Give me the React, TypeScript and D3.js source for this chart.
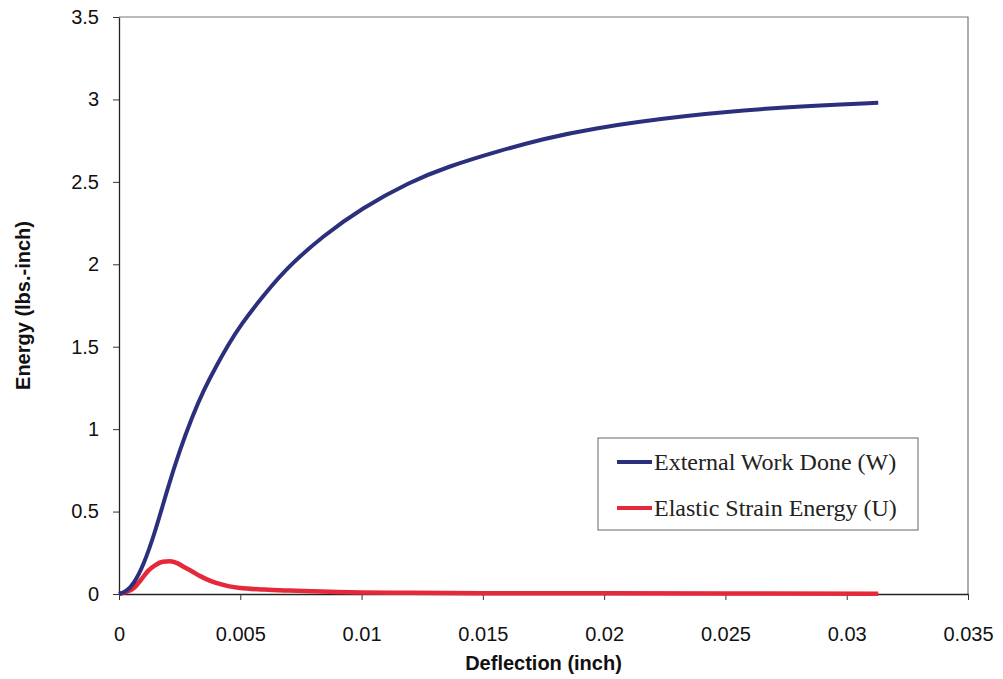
import React, { useEffect, useRef } from 'react';
import * as d3 from 'd3';

// deflection (inch) / energy (lbs.-inch)
const workX = [0, 0.0003, 0.0006, 0.001, 0.0015, 0.002, 0.0025, 0.003, 0.0035, 0.004, 0.0045, 0.005, 0.006, 0.007, 0.0084, 0.01, 0.012, 0.0135, 0.0157, 0.0175, 0.0193, 0.0234, 0.0275, 0.0313];
const workY = [0, 0.015, 0.06, 0.17, 0.38, 0.64, 0.87, 1.07, 1.24, 1.38, 1.51, 1.63, 1.82, 1.99, 2.17, 2.34, 2.5, 2.59, 2.69, 2.76, 2.82, 2.905, 2.955, 2.98];

const strainX = [0, 0.0003, 0.0006, 0.0009, 0.0012, 0.0015, 0.0018, 0.0021, 0.0024, 0.0027, 0.003, 0.0033, 0.0036, 0.004, 0.0045, 0.005, 0.006, 0.007, 0.008, 0.009, 0.01, 0.012, 0.015, 0.02, 0.025, 0.0313];
const strainY = [0, 0.012, 0.035, 0.085, 0.14, 0.175, 0.195, 0.198, 0.187, 0.162, 0.138, 0.112, 0.09, 0.067, 0.048, 0.036, 0.027, 0.021, 0.016, 0.012, 0.009, 0.007, 0.005, 0.004, 0.003, 0.002];

const xTicks = [0, 0.005, 0.01, 0.015, 0.02, 0.025, 0.03, 0.035];
const yTicks = [0, 0.5, 1, 1.5, 2, 2.5, 3, 3.5];

const seriesNames = ['External Work Done (W)', 'Elastic Strain Energy (U)'];
const seriesColors = ['#2b2f7c', '#e5283a'];

const App = () => {
  const svgRef = useRef<SVGSVGElement>(null);

  useEffect(() => {
    const width = 1003;
    const height = 679;
    const left = 119, right = 968, top = 17, bottom = 594;

    const svg = d3.select(svgRef.current)
      .attr('width', width)
      .attr('height', height);
    svg.selectAll('*').remove();

    const x = d3.scaleLinear().domain([0, 0.035]).range([left, right]);
    const y = d3.scaleLinear().domain([0, 3.5]).range([bottom, top]);

    // frame: grey top/right, black axes
    svg.append('path')
      .attr('d', `M${left},${top}H${right}V${bottom}`)
      .attr('fill', 'none')
      .attr('stroke', '#777')
      .attr('stroke-width', 1.2);

    const xAxis = svg.append('g')
      .attr('transform', `translate(0,${bottom})`)
      .call(d3.axisBottom(x).tickValues(xTicks).tickSize(6).tickSizeOuter(0).tickFormat(d => String(+d)));
    xAxis.select('.domain').attr('stroke', '#222').attr('stroke-width', 1.3);
    xAxis.selectAll('line').attr('stroke', '#333');
    xAxis.selectAll('text')
      .attr('dy', '1.9em')
      .style('font-family', 'Liberation Sans, Arial, sans-serif')
      .style('font-size', '20px')
      .attr('fill', '#111');

    const yAxis = svg.append('g')
      .attr('transform', `translate(${left},0)`)
      .call(d3.axisLeft(y).tickValues(yTicks).tickSize(6).tickSizeOuter(0).tickFormat(d => String(+d)));
    yAxis.select('.domain').attr('stroke', '#222').attr('stroke-width', 1.3);
    yAxis.selectAll('line').attr('stroke', '#333');
    yAxis.selectAll('text')
      .attr('x', -20)
      .style('font-family', 'Liberation Sans, Arial, sans-serif')
      .style('font-size', '20px')
      .attr('fill', '#111');

    const line = d3.line<[number, number]>()
      .x(d => x(d[0]))
      .y(d => y(d[1]))
      .curve(d3.curveMonotoneX);

    const work: [number, number][] = workX.map((v, i) => [v, workY[i]]);
    const strain: [number, number][] = strainX.map((v, i) => [v, strainY[i]]);

    svg.append('path')
      .attr('d', line(strain))
      .attr('fill', 'none')
      .attr('stroke', seriesColors[1])
      .attr('stroke-width', 4.5);

    // W is a smooth curve, so a basis spline fits the scan better
    svg.append('path')
      .attr('d', line.curve(d3.curveBasis)(work))
      .attr('fill', 'none')
      .attr('stroke', seriesColors[0])
      .attr('stroke-width', 4);

    // legend
    const lg = svg.append('g');
    lg.append('rect')
      .attr('x', 598).attr('y', 438)
      .attr('width', 320).attr('height', 92)
      .attr('fill', 'white')
      .attr('stroke', '#666')
      .attr('stroke-width', 1);
    seriesNames.forEach((name, i) => {
      const ly = 462 + i * 46;
      lg.append('line')
        .attr('x1', 617).attr('x2', 652)
        .attr('y1', ly).attr('y2', ly)
        .attr('stroke', seriesColors[i])
        .attr('stroke-width', 4);
      lg.append('text')
        .attr('x', 654).attr('y', ly + 8)
        .style('font-family', 'Liberation Serif, Times New Roman, serif')
        .style('font-size', '24px')
        .attr('fill', '#222')
        .text(name);
    });

    // axis titles
    svg.append('text')
      .attr('x', (left + right) / 2)
      .attr('y', 670)
      .attr('text-anchor', 'middle')
      .style('font-family', 'Liberation Sans, Arial, sans-serif')
      .style('font-size', '20px')
      .style('font-weight', 'bold')
      .attr('fill', '#111')
      .text('Deflection (inch)');

    svg.append('text')
      .attr('transform', `translate(30,${(top + bottom) / 2}) rotate(-90)`)
      .attr('text-anchor', 'middle')
      .style('font-family', 'Liberation Sans, Arial, sans-serif')
      .style('font-size', '20px')
      .style('font-weight', 'bold')
      .attr('fill', '#111')
      .text('Energy (lbs.-inch)');
  }, []);

  return (
    <svg ref={svgRef} style={{ position: 'absolute', left: 0, top: 0 }}></svg>
  );
};

export default App;
